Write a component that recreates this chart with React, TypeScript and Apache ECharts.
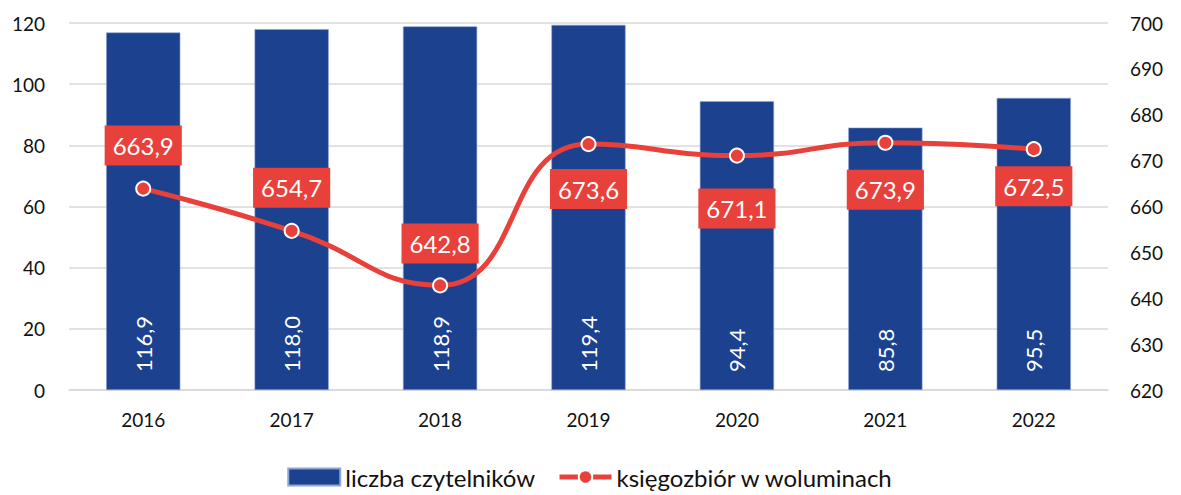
import React, { useEffect, useRef } from "react";
import * as echarts from "echarts";

const years = ["2016", "2017", "2018", "2019", "2020", "2021", "2022"];
const readers = [116.9, 118.0, 118.9, 119.4, 94.4, 85.8, 95.5];
const volumes = [663.9, 654.7, 642.8, 673.6, 671.1, 673.9, 672.5];
const volumeLabelPos = ["top", "top", "top", "bottom", "bottom", "bottom", "bottom"];
const volumeLabelDist = [15, 15, 14, 17, 25, 19, 9];
const leftTicks = { min: 0, max: 120, interval: 20 };
const rightTicks = { min: 620, max: 700, interval: 10 };

const FONT = "Lato, 'Open Sans', sans-serif";
const fmt = (v: number) => v.toFixed(1).replace(".", ",");

export default function App() {
  const ref = useRef<HTMLDivElement>(null);
  useEffect(() => {
    if (!ref.current) return;
    const chart = echarts.init(ref.current, undefined, { renderer: "svg" });
    chart.setOption({
      animation: false,
      textStyle: { fontFamily: FONT },
      grid: { left: 69, right: 73, top: 23, bottom: 105 },
      legend: {
        bottom: 1,
        left: "center",
        itemWidth: 52,
        itemHeight: 17,
        itemGap: 22,
        textStyle: { fontSize: 24, color: "#111", fontFamily: FONT },
        data: [
          { name: "liczba czytelników", icon: "rect" },
          { name: "księgozbiór w woluminach", lineStyle: { width: 5 } },
        ],
      },
      xAxis: {
        type: "category",
        data: years,
        axisLine: { show: true, lineStyle: { color: "#d9d9d9", width: 1.5 } },
        axisTick: { show: false },
        axisLabel: { fontSize: 19, color: "#111", margin: 20, fontFamily: FONT },
      },
      yAxis: [
        {
          type: "value",
          ...leftTicks,
          axisLine: { show: false },
          axisTick: { show: false },
          axisLabel: { fontSize: 19, color: "#111", margin: 24, fontFamily: FONT },
          splitLine: { lineStyle: { color: "#d9d9d9", width: 1.5 } },
        },
        {
          type: "value",
          ...rightTicks,
          position: "right",
          axisLine: { show: false },
          axisTick: { show: false },
          axisLabel: { fontSize: 19, color: "#111", margin: 22, fontFamily: FONT },
          splitLine: { show: false },
        },
      ],
      series: [
        {
          name: "liczba czytelników",
          type: "bar",
          yAxisIndex: 0,
          data: readers,
          barWidth: "50%",
          itemStyle: { color: "#1b418f", borderColor: "#8fa6d4", borderWidth: 0.6 },
          label: {
            show: true,
            position: "insideBottom",
            rotate: 90,
            align: "left",
            verticalAlign: "middle",
            distance: 18,
            color: "#fff",
            fontSize: 22,
            fontFamily: FONT,
            formatter: (p: any) => fmt(p.value),
          },
        },
        {
          name: "księgozbiór w woluminach",
          type: "line",
          yAxisIndex: 1,
          smooth: 0.5,
          symbol: "circle",
          symbolSize: 14,
          z: 5,
          lineStyle: { color: "#e8403a", width: 5 },
          itemStyle: { color: "#e8403a", borderColor: "#fff", borderWidth: 2 },
          data: volumes.map((v, i) => ({
            value: v,
            label: {
              position: volumeLabelPos[i],
              distance: volumeLabelDist[i],
            },
          })),
          label: {
            show: true,
            color: "#fff",
            fontSize: 24,
            lineHeight: 26,
            fontFamily: FONT,
            backgroundColor: "#e8403a",
            padding: [7, 8, 7, 8],
            formatter: (p: any) => fmt(p.value),
          },
        },
      ],
    });
    return () => chart.dispose();
  }, []);
  return (
    <div
      ref={ref}
      style={{ position: "fixed", left: 0, top: 0, width: 1181, height: 495, background: "#fff" }}
    />
  );
}
